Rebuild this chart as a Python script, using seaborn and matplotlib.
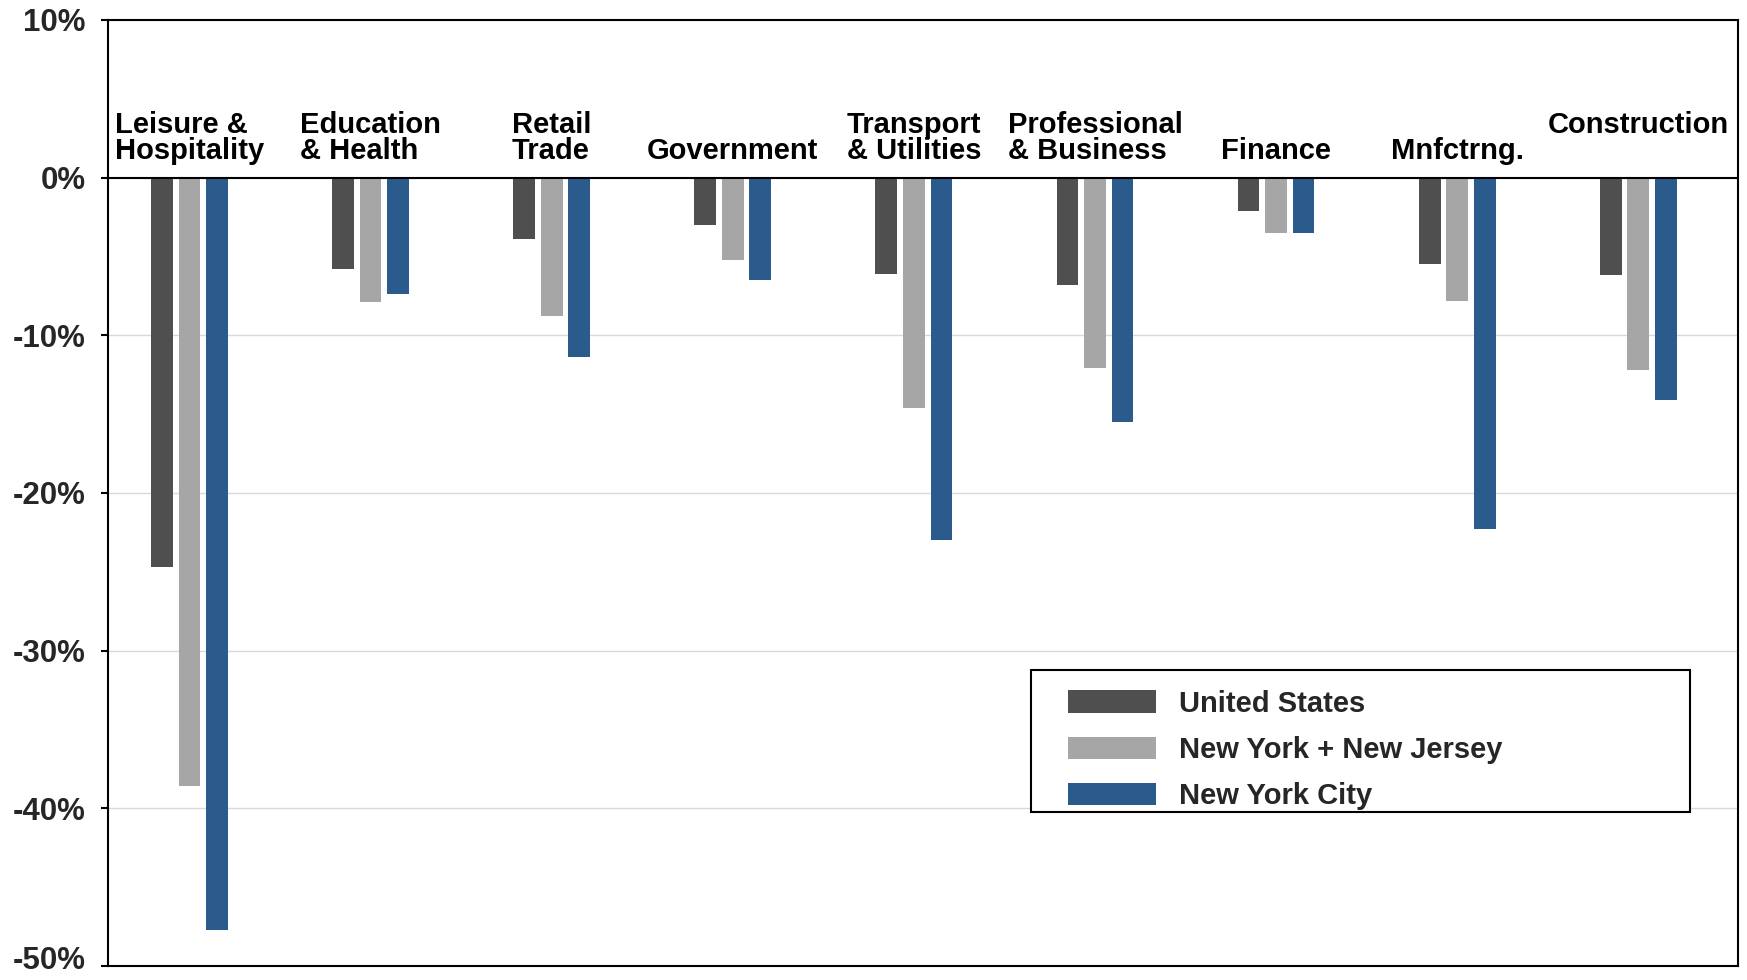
import pandas as pd
import matplotlib
matplotlib.use('Agg')
import matplotlib.pyplot as plt
import matplotlib.transforms as mtransforms
from matplotlib.patches import Rectangle
import seaborn as sns

# Employment change by sector (%)
sectors = ['Leisure &\nHospitality', 'Education\n& Health', 'Retail\nTrade', 'Government',
           'Transport\n& Utilities', 'Professional\n& Business', 'Finance', 'Mnfctrng.',
           'Construction\n']
regions = ['United States', 'New York + New Jersey', 'New York City']
us = [-24.7, -5.8, -3.9, -3.0, -6.1, -6.8, -2.1, -5.5, -6.2]
ny_nj = [-38.6, -7.9, -8.8, -5.2, -14.6, -12.1, -3.5, -7.8, -12.2]
nyc = [-47.7, -7.4, -11.4, -6.5, -23.0, -15.5, -3.5, -22.3, -14.1]
yticks = [10, 0, -10, -20, -30, -40, -50]
ytick_labels = ['10%', '0%', '-10%', '-20%', '-30%', '-40%', '-50%']
colors = ['#4f4f4f', '#a6a6a6', '#2b5b8c']

df = pd.DataFrame({
    'sector': sectors * 3,
    'region': [r for r in regions for _ in sectors],
    'change': us + ny_nj + nyc,
})

sns.set_theme(style='white')
plt.rcParams['font.family'] = ['Liberation Sans', 'DejaVu Sans']
plt.rcParams['font.weight'] = 'bold'

fig = plt.figure(figsize=(17.47, 9.8), dpi=100)
ax = fig.add_axes([0.0618, 0.0143, 0.933, 0.9653])

sns.barplot(data=df, x='sector', y='change', hue='region', palette=colors,
            width=0.456, gap=0.21, saturation=1, errorbar=None, linewidth=0, ax=ax)

ax.set_xlim(-0.45, 8.55)
ax.set_ylim(-50, 10)
ax.set_yticks(yticks)
ax.set_yticklabels(ytick_labels, fontsize=22.5, fontweight='bold')
ax.tick_params(axis='y', left=True, length=5, width=1.5, color='black', pad=11)
ax.tick_params(axis='x', bottom=False, labelbottom=False)
ax.set_xlabel('')
ax.set_ylabel('')

# lift the bottom tick label a little so it stays inside the figure
last = ax.get_yticklabels()[-1]
last.set_transform(last.get_transform() + mtransforms.ScaledTranslation(0, 6 / 72, fig.dpi_scale_trans))

ax.set_axisbelow(True)
ax.yaxis.grid(True, color='#d9d9d9', linewidth=1)
ax.axhline(0, color='black', linewidth=1.5, zorder=3)
for s in ax.spines.values():
    s.set_visible(True)
    s.set_color('black')
    s.set_linewidth(1.5)

# category names sit above the zero line
for i, name in enumerate(sectors):
    ax.text(i, 0.8, name, ha='center', va='bottom', multialignment='left',
            fontsize=21, fontweight='bold', linespacing=0.9, color='black')

# legend with a wide square frame
handles, labels = ax.get_legend_handles_labels()
ax.get_legend().remove()
ax.add_patch(Rectangle((0.566, 0.1628), 0.4046, 0.1501, transform=ax.transAxes,
                       facecolor='white', edgecolor='black', linewidth=1.5, zorder=4))
leg = ax.legend(handles, labels, loc='upper left', bbox_to_anchor=(0.589, 0.292),
                frameon=False, borderpad=0, borderaxespad=0, fontsize=21,
                handlelength=3.0, handleheight=0.8, handletextpad=0.8, labelspacing=0.62)
leg.set_zorder(5)
for t in leg.get_texts():
    t.set_fontweight('bold')

fig.savefig('out.png', dpi=100)
